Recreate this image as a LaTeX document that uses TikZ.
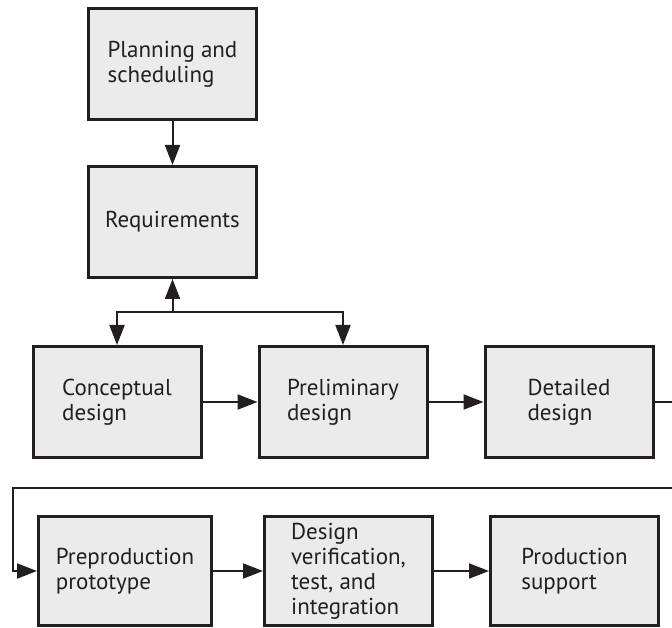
\documentclass[tikz,border=0pt]{standalone}
\usepackage{fontspec}
\setmainfont{PT Sans}
\usetikzlibrary{arrows.meta,positioning,calc}
\definecolor{BoxFill}{HTML}{EBEBEB}
\definecolor{Ink}{HTML}{231F20}
\tikzset{
  stage/.style={draw=Ink, fill=BoxFill, line width=3pt, minimum width=168pt, minimum height=111pt, align=left, text=Ink, inner sep=0pt, font=\fontsize{23}{25}\selectfont},
  arrow/.style={-{Triangle[length=20pt, width=15pt]}, line width=2pt, draw=Ink}
}

\begin{document}
\begin{tikzpicture}[x=1pt, y=-1pt, node distance=55pt]
  \useasboundingbox (0,0) rectangle (672,628);
  \clip (0,0) rectangle (672,628);

  \node[stage] (plan) at (172.5,64) {Planning and\\scheduling};
  \node[stage, below=44pt of plan] (req) {Requirements};
  \draw[arrow] (plan) -- (req);

  \node[stage] (conc) at (117,402) {Conceptual\\design};
  \node[stage, right=of conc] (prel) {Preliminary\\design};
  \node[stage, right=of prel] (det) {Detailed\\design};
  \coordinate (split) at ($(req.south)+(0,33)$);
  \draw[arrow] (split) -- (req);
  \draw[arrow] (split) -| (conc.north);
  \draw[arrow] (split) -| (prel.north);
  \draw[arrow] (conc) -- (prel);
  \draw[arrow] (prel) -- (det);

  \node[stage, minimum width=173pt, minimum height=109pt] (pre) at (125,571) {Preproduction\\prototype};
  \node[stage, minimum height=109pt, right=50pt of pre] (ver) {Design\\verification,\\test, and\\integration};
  \node[stage, minimum height=109pt, right=of ver] (prod) {Production\\support};
  \coordinate (turn) at (690,488);
  \coordinate (back) at (13,488);
  \draw[arrow] (det.east) -| (turn) -- (back) |- (pre.west);
  \draw[arrow] (pre) -- (ver);
  \draw[arrow] (ver) -- (prod);
\end{tikzpicture}
\end{document}
